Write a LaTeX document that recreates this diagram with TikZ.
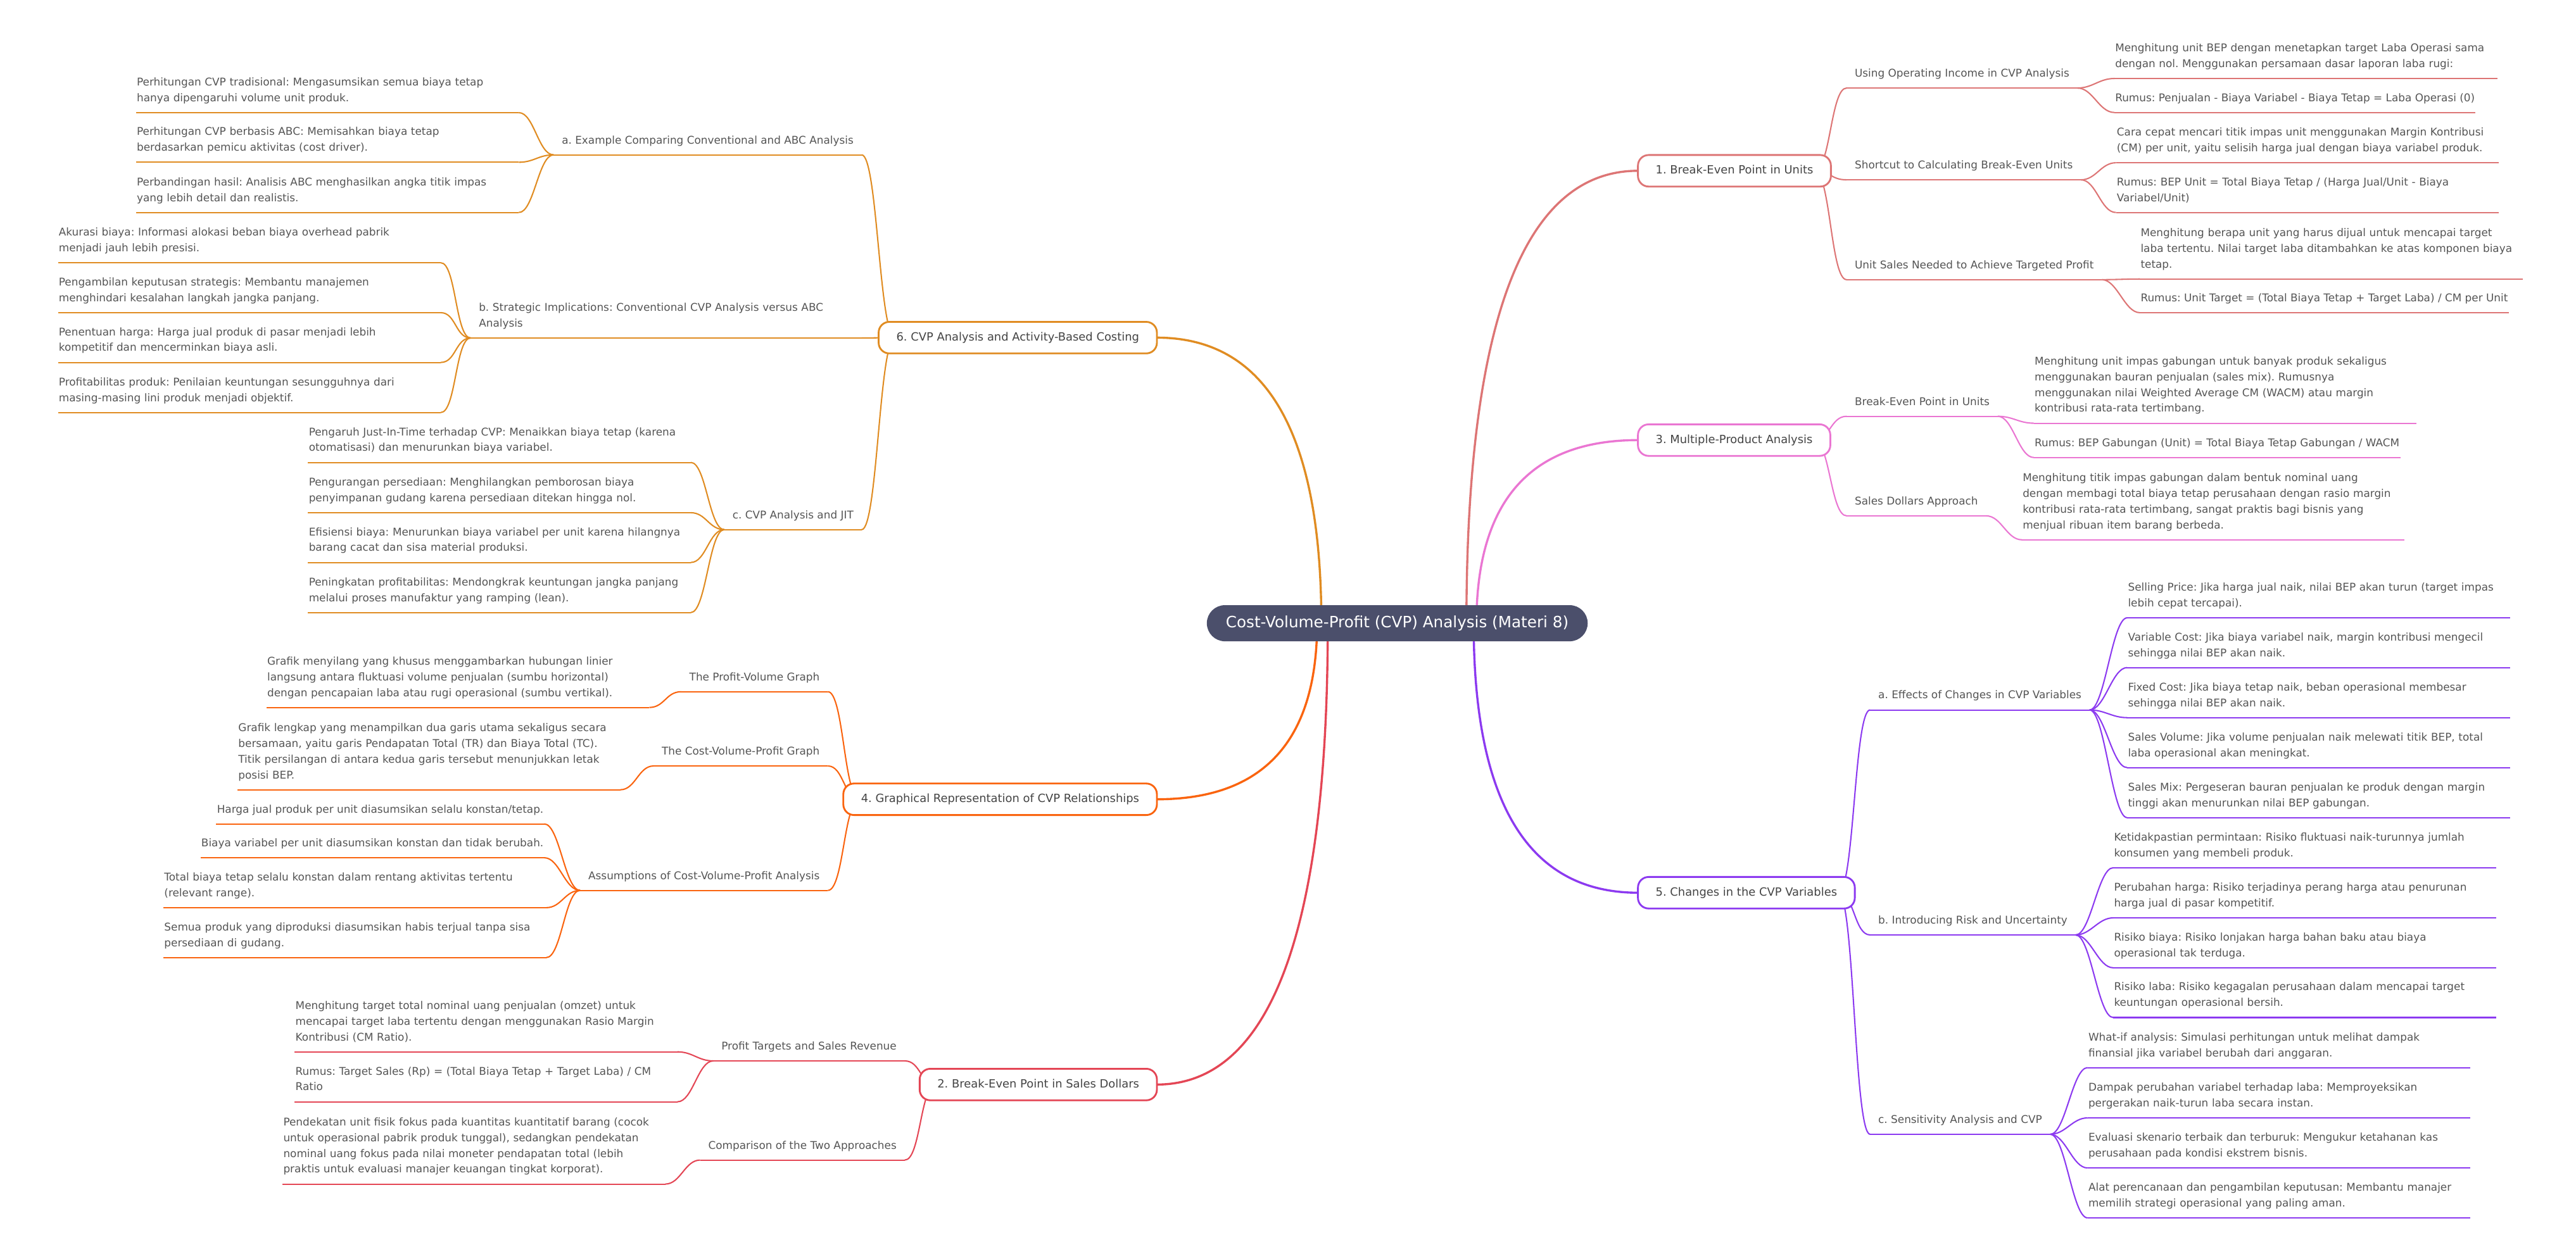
\documentclass[tikz,border=0pt]{standalone}
\usepackage{fontspec}
\setmainfont{DejaVu Sans}
\frenchspacing
\usetikzlibrary{backgrounds}
\definecolor{rootfill}{RGB}{75,79,107}
\definecolor{maintext}{RGB}{68,68,68}
\definecolor{leaftext}{RGB}{85,85,85}
\definecolor{colUnits}{RGB}{221,117,117}
\definecolor{colSales}{RGB}{228,70,85}
\definecolor{colGraph}{RGB}{250,100,15}
\definecolor{colMulti}{RGB}{234,118,210}
\definecolor{colChange}{RGB}{140,58,240}
\definecolor{colABC}{RGB}{224,140,34}
\tikzset{
  rootnode/.style={rounded corners=11pt,fill=rootfill,text=white,
                   font=\fontsize{9.5}{11}\selectfont,minimum height=22pt,
                   inner xsep=11.6pt,text height=7pt,text depth=2pt},
  topic/.style={draw=#1,line width=1.1pt,rounded corners=6.5pt,fill=white,
                text=maintext,font=\fontsize{6.9}{8}\selectfont,
                minimum height=19.2pt,inner xsep=10.8pt,
                text height=5.3pt,text depth=1.5pt,outer sep=0pt},
  subtopic/.style={text=leaftext,font=\fontsize{6.5}{9.6}\selectfont,
                   align=left,inner xsep=5pt,inner ysep=3.9pt,outer sep=0pt,
                   execute at end node=\strut,
                   append after command={(\tikzlastnode.south west)
                     edge[draw=#1,line width=0.8pt] (\tikzlastnode.south east)}},
  detail/.style={subtopic=#1,inner xsep=0.5pt},
  wide/.style={text width=232pt},
  mainlink/.style={draw=#1,line width=1.3pt},
  sublink/.style={draw=#1,line width=0.8pt},
}
\begin{document}
\begin{tikzpicture}[x=1pt,y=1pt]
\useasboundingbox (0,0) rectangle (1568,-759);

\node[rootnode] (root) at (850.5,-379.5) {Cost-Volume-Profit (CVP) Analysis (Materi 8)};

\node[topic=colUnits,anchor=west] (m1) at (997,-104) {1. Break-Even Point in Units};
\node[topic=colMulti,anchor=west] (m3) at (997,-268) {3. Multiple-Product Analysis};
\node[topic=colChange,anchor=west] (m5) at (997,-543.6) {5. Changes in the CVP Variables};
\node[topic=colABC,anchor=east] (m6) at (704.2,-205.6) {6. CVP Analysis and Activity-Based Costing};
\node[topic=colGraph,anchor=east] (m4) at (704.2,-486.7) {4. Graphical Representation of CVP Relationships};
\node[topic=colSales,anchor=east] (m2) at (704.2,-660.4) {2. Break-Even Point in Sales Dollars};

% 1. break-even point in units
\node[subtopic=colUnits,anchor=south west] (s1a) at (1124,-53.6) {Using Operating Income in CVP Analysis};
\node[subtopic=colUnits,anchor=south west] (s1b) at (1124,-109.5) {Shortcut to Calculating Break-Even Units};
\node[subtopic=colUnits,anchor=south west] (s1c) at (1124,-170.3) {Unit Sales Needed to Achieve Targeted Profit};
\node[detail=colUnits,wide,anchor=south west] (l1a1) at (1287,-47.8)
  {Menghitung unit BEP dengan menetapkan target Laba Operasi sama\\dengan nol. Menggunakan persamaan dasar laporan laba rugi:};
\node[detail=colUnits,anchor=south west] (l1a2) at (1287,-68.5)
  {Rumus: Penjualan - Biaya Variabel - Biaya Tetap = Laba Operasi (0)};
\node[detail=colUnits,wide,anchor=south west] (l1b1) at (1288,-99.1)
  {Cara cepat mencari titik impas unit menggunakan Margin Kontribusi\\(CM) per unit, yaitu selisih harga jual dengan biaya variabel produk.};
\node[detail=colUnits,wide,anchor=south west] (l1b2) at (1288,-129.4)
  {Rumus: BEP Unit = Total Biaya Tetap / (Harga Jual/Unit - Biaya\\Variabel/Unit)};
\node[detail=colUnits,wide,anchor=south west] (l1c1) at (1302.5,-169.9)
  {Menghitung berapa unit yang harus dijual untuk mencapai target\\laba tertentu. Nilai target laba ditambahkan ke atas komponen biaya\\tetap.};
\node[detail=colUnits,anchor=south west] (l1c2) at (1302.5,-190.4)
  {Rumus: Unit Target = (Total Biaya Tetap + Target Laba) / CM per Unit};

% 3. multiple-product analysis
\node[subtopic=colMulti,anchor=south west] (s3a) at (1124,-253.5) {Break-Even Point in Units};
\node[subtopic=colMulti,anchor=south west] (s3b) at (1124,-314.1) {Sales Dollars Approach};
\node[detail=colMulti,wide,anchor=south west] (l3a1) at (1238,-257.7)
  {Menghitung unit impas gabungan untuk banyak produk sekaligus\\menggunakan bauran penjualan (sales mix). Rumusnya\\menggunakan nilai Weighted Average CM (WACM) atau margin\\kontribusi rata-rata tertimbang.};
\node[detail=colMulti,anchor=south west] (l3a2) at (1238,-278.6)
  {Rumus: BEP Gabungan (Unit) = Total Biaya Tetap Gabungan / WACM};
\node[detail=colMulti,wide,anchor=south west] (l3b1) at (1230.7,-328.7)
  {Menghitung titik impas gabungan dalam bentuk nominal uang\\dengan membagi total biaya tetap perusahaan dengan rasio margin\\kontribusi rata-rata tertimbang, sangat praktis bagi bisnis yang\\menjual ribuan item barang berbeda.};

% 5. changes in the cvp variables
\node[subtopic=colChange,anchor=south west] (s5a) at (1138.3,-432.3) {a. Effects of Changes in CVP Variables};
\node[subtopic=colChange,anchor=south west] (s5b) at (1138.3,-569.3) {b. Introducing Risk and Uncertainty};
\node[subtopic=colChange,anchor=south west] (s5c) at (1138.3,-690.7) {c. Sensitivity Analysis and CVP};
\foreach \n/\y/\t in {
    1/376.2/{Selling Price: Jika harga jual naik, nilai BEP akan turun (target impas\\lebih cepat tercapai).},
    2/406.5/{Variable Cost: Jika biaya variabel naik, margin kontribusi mengecil\\sehingga nilai BEP akan naik.},
    3/437.0/{Fixed Cost: Jika biaya tetap naik, beban operasional membesar\\sehingga nilai BEP akan naik.},
    4/467.4/{Sales Volume: Jika volume penjualan naik melewati titik BEP, total\\laba operasional akan meningkat.},
    5/497.9/{Sales Mix: Pergeseran bauran penjualan ke produk dengan margin\\tinggi akan menurunkan nilai BEP gabungan.}}
  \node[detail=colChange,wide,anchor=south west] (l5a\n) at (1294.8,-\y) {\t};
\foreach \n/\y/\t in {
    1/528.4/{Ketidakpastian permintaan: Risiko fluktuasi naik-turunnya jumlah\\konsumen yang membeli produk.},
    2/558.9/{Perubahan harga: Risiko terjadinya perang harga atau penurunan\\harga jual di pasar kompetitif.},
    3/589.3/{Risiko biaya: Risiko lonjakan harga bahan baku atau biaya\\operasional tak terduga.},
    4/619.6/{Risiko laba: Risiko kegagalan perusahaan dalam mencapai target\\keuntungan operasional bersih.}}
  \node[detail=colChange,wide,anchor=south west] (l5b\n) at (1286.3,-\y) {\t};
\foreach \n/\y/\t in {
    1/650.1/{What-if analysis: Simulasi perhitungan untuk melihat dampak\\finansial jika variabel berubah dari anggaran.},
    2/680.7/{Dampak perubahan variabel terhadap laba: Memproyeksikan\\pergerakan naik-turun laba secara instan.},
    3/711.2/{Evaluasi skenario terbaik dan terburuk: Mengukur ketahanan kas\\perusahaan pada kondisi ekstrem bisnis.},
    4/741.6/{Alat perencanaan dan pengambilan keputusan: Membantu manajer\\memilih strategi operasional yang paling aman.}}
  \node[detail=colChange,wide,anchor=south west] (l5c\n) at (1270.7,-\y) {\t};

% 6. cvp and activity-based costing
\node[subtopic=colABC,anchor=south east] (s6a) at (524.5,-94.3) {a. Example Comparing Conventional and ABC Analysis};
\node[subtopic=colABC,text width=228pt,anchor=south east] (s6b) at (524.5,-205.8)
  {b. Strategic Implications: Conventional CVP Analysis versus ABC\\Analysis};
\node[subtopic=colABC,anchor=south east] (s6c) at (524.5,-322.5) {c. CVP Analysis and JIT};
\foreach \n/\y/\t in {
    1/68.6/{Perhitungan CVP tradisional: Mengasumsikan semua biaya tetap\\hanya dipengaruhi volume unit produk.},
    2/98.8/{Perhitungan CVP berbasis ABC: Memisahkan biaya tetap\\berdasarkan pemicu aktivitas (cost driver).},
    3/129.4/{Perbandingan hasil: Analisis ABC menghasilkan angka titik impas\\yang lebih detail dan realistis.}}
  \node[detail=colABC,wide,anchor=south east] (l6a\n) at (315.8,-\y) {\t};
\foreach \n/\y/\t in {
    1/160.0/{Akurasi biaya: Informasi alokasi beban biaya overhead pabrik\\menjadi jauh lebih presisi.},
    2/190.4/{Pengambilan keputusan strategis: Membantu manajemen\\menghindari kesalahan langkah jangka panjang.},
    3/220.7/{Penentuan harga: Harga jual produk di pasar menjadi lebih\\kompetitif dan mencerminkan biaya asli.},
    4/251.2/{Profitabilitas produk: Penilaian keuntungan sesungguhnya dari\\masing-masing lini produk menjadi objektif.}}
  \node[detail=colABC,wide,anchor=south east] (l6b\n) at (268.3,-\y) {\t};
\foreach \n/\y/\t in {
    1/281.6/{Pengaruh Just-In-Time terhadap CVP: Menaikkan biaya tetap (karena\\otomatisasi) dan menurunkan biaya variabel.},
    2/312.2/{Pengurangan persediaan: Menghilangkan pemborosan biaya\\penyimpanan gudang karena persediaan ditekan hingga nol.},
    3/342.5/{Efisiensi biaya: Menurunkan biaya variabel per unit karena hilangnya\\barang cacat dan sisa material produksi.},
    4/373.0/{Peningkatan profitabilitas: Mendongkrak keuntungan jangka panjang\\melalui proses manufaktur yang ramping (lean).}}
  \node[detail=colABC,wide,anchor=south east] (l6c\n) at (420.5,-\y) {\t};

% 4. graphical representation
\node[subtopic=colGraph,anchor=south east] (s4a) at (503.9,-421.2) {The Profit-Volume Graph};
\node[subtopic=colGraph,anchor=south east] (s4b) at (503.9,-466.4) {The Cost-Volume-Profit Graph};
\node[subtopic=colGraph,anchor=south east] (s4c) at (503.9,-542.2) {Assumptions of Cost-Volume-Profit Analysis};
\node[detail=colGraph,wide,anchor=south east] (l4a1) at (395.2,-430.8)
  {Grafik menyilang yang khusus menggambarkan hubungan linier\\langsung antara fluktuasi volume penjualan (sumbu horizontal)\\dengan pencapaian laba atau rugi operasional (sumbu vertikal).};
\node[detail=colGraph,wide,anchor=south east] (l4b1) at (377.6,-480.9)
  {Grafik lengkap yang menampilkan dua garis utama sekaligus secara\\bersamaan, yaitu garis Pendapatan Total (TR) dan Biaya Total (TC).\\Titik persilangan di antara kedua garis tersebut menunjukkan letak\\posisi BEP.};
\node[detail=colGraph,anchor=south east] (l4c1) at (331.3,-501.7)
  {Harga jual produk per unit diasumsikan selalu konstan/tetap.};
\node[detail=colGraph,anchor=south east] (l4c2) at (331.3,-522.3)
  {Biaya variabel per unit diasumsikan konstan dan tidak berubah.};
\node[detail=colGraph,wide,anchor=south east] (l4c3) at (332.5,-552.7)
  {Total biaya tetap selalu konstan dalam rentang aktivitas tertentu\\(relevant range).};
\node[detail=colGraph,wide,anchor=south east] (l4c4) at (332.5,-583.1)
  {Semua produk yang diproduksi diasumsikan habis terjual tanpa sisa\\persediaan di gudang.};

% 2. break-even point in sales dollars
\node[subtopic=colSales,anchor=south east] (s2a) at (550.7,-646) {Profit Targets and Sales Revenue};
\node[subtopic=colSales,anchor=south east] (s2b) at (550.7,-706.4) {Comparison of the Two Approaches};
\node[detail=colSales,wide,anchor=south east] (l2a1) at (412.4,-640.5)
  {Menghitung target total nominal uang penjualan (omzet) untuk\\mencapai target laba tertentu dengan menggunakan Rasio Margin\\Kontribusi (CM Ratio).};
\node[detail=colSales,wide,anchor=south east] (l2a2) at (412.4,-670.9)
  {Rumus: Target Sales (Rp) = (Total Biaya Tetap + Target Laba) / CM\\Ratio};
\node[detail=colSales,wide,anchor=south east] (l2b1) at (405,-721)
  {Pendekatan unit fisik fokus pada kuantitas kuantitatif barang (cocok\\untuk operasional pabrik produk tunggal), sedangkan pendekatan\\nominal uang fokus pada nilai moneter pendapatan total (lebih\\praktis untuk evaluasi manajer keuangan tingkat korporat).};

\begin{scope}[on background layer]
  \fill[white] (0,0) rectangle (1568,-759);
  \draw[mainlink=colUnits] ([xshift=42.1]root.center) .. controls +(0,183.7) and +(-69.6,0) .. (m1.west);
  \draw[mainlink=colMulti] ([xshift=48.2]root.center) .. controls +(0,74.3) and +(-65.5,0) .. (m3.west);
  \draw[mainlink=colChange] ([xshift=46.5]root.center) .. controls +(0,-109.4) and +(-66.7,0) .. (m5.west);
  \draw[mainlink=colABC] ([xshift=-46.2]root.center) .. controls +(0,115.9) and +(66.7,0) .. (m6.east);
  \draw[mainlink=colGraph] ([xshift=-48.8]root.center) .. controls +(0,-71.5) and +(65,0) .. (m4.east);
  \draw[mainlink=colSales] ([xshift=-42.3]root.center) .. controls +(0,-187.3) and +(69.3,0) .. (m2.east);

  \foreach \m/\s/\c in {m1/s1a/colUnits,m1/s1b/colUnits,m1/s1c/colUnits,
                        m3/s3a/colMulti,m3/s3b/colMulti,
                        m5/s5a/colChange,m5/s5b/colChange,m5/s5c/colChange}
    \draw[sublink=\c] ([xshift=-10]\m.east) .. controls +(9.7,0) and +(-9.7,0) .. (\s.south west);
  \foreach \m/\s/\c in {m6/s6a/colABC,m6/s6b/colABC,m6/s6c/colABC,
                        m4/s4a/colGraph,m4/s4b/colGraph,m4/s4c/colGraph,
                        m2/s2a/colSales,m2/s2b/colSales}
    \draw[sublink=\c] ([xshift=10]\m.west) .. controls +(-9.7,0) and +(9.7,0) .. (\s.south east);

  \foreach \s/\l/\c in {s1a/l1a1/colUnits,s1a/l1a2/colUnits,s1b/l1b1/colUnits,
                        s1b/l1b2/colUnits,s1c/l1c1/colUnits,s1c/l1c2/colUnits,
                        s3a/l3a1/colMulti,s3a/l3a2/colMulti,s3b/l3b1/colMulti,
                        s5a/l5a1/colChange,s5a/l5a2/colChange,s5a/l5a3/colChange,
                        s5a/l5a4/colChange,s5a/l5a5/colChange,
                        s5b/l5b1/colChange,s5b/l5b2/colChange,s5b/l5b3/colChange,
                        s5b/l5b4/colChange,
                        s5c/l5c1/colChange,s5c/l5c2/colChange,s5c/l5c3/colChange,
                        s5c/l5c4/colChange}
    \draw[sublink=\c] (\s.south east) .. controls +(9.25,0) and +(-9.25,0) .. (\l.south west);
  \foreach \s/\l/\c in {s6a/l6a1/colABC,s6a/l6a2/colABC,s6a/l6a3/colABC,
                        s6b/l6b1/colABC,s6b/l6b2/colABC,s6b/l6b3/colABC,
                        s6b/l6b4/colABC,
                        s6c/l6c1/colABC,s6c/l6c2/colABC,s6c/l6c3/colABC,
                        s6c/l6c4/colABC,
                        s4a/l4a1/colGraph,s4b/l4b1/colGraph,s4c/l4c1/colGraph,
                        s4c/l4c2/colGraph,s4c/l4c3/colGraph,s4c/l4c4/colGraph,
                        s2a/l2a1/colSales,s2a/l2a2/colSales,s2b/l2b1/colSales}
    \draw[sublink=\c] (\s.south west) .. controls +(-9.25,0) and +(9.25,0) .. (\l.south east);
\end{scope}
\end{tikzpicture}
\end{document}
